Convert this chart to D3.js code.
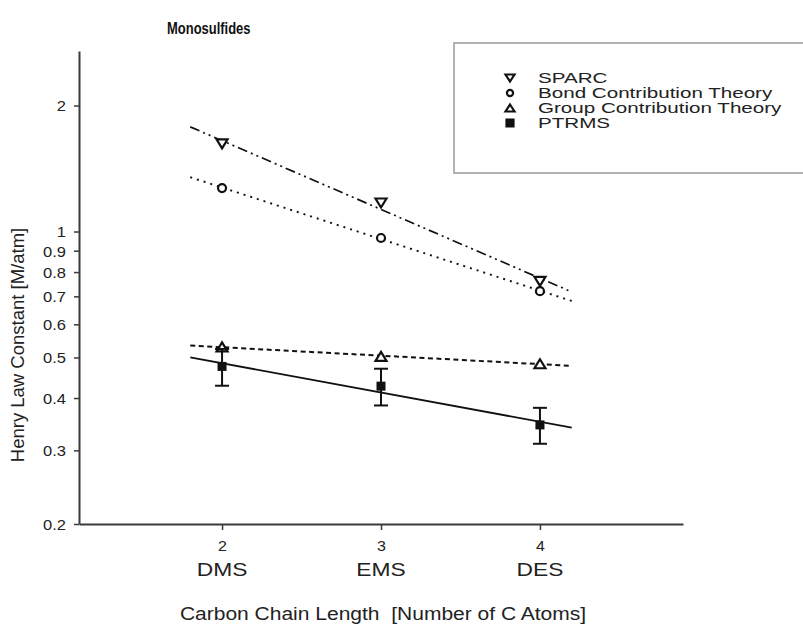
<!DOCTYPE html>
<html>
<head>
<meta charset="utf-8">
<script src="https://cdn.jsdelivr.net/npm/d3@7"></script>
<style>
  body { margin: 0; background: #fff; }
  svg { font-family: "Liberation Sans", Arial, sans-serif; }
</style>
</head>
<body>
<div id="chart"></div>
<script>
// carbon chain length of each monosulfide
var carbons = [2, 3, 4];
var compounds = ["DMS", "EMS", "DES"];
var yTicks = [0.2, 0.3, 0.4, 0.5, 0.6, 0.7, 0.8, 0.9, 1, 2];

// Henry law constants [M/atm]
var sparc = [1.62, 1.17, 0.76];
var bondTheory = [1.27, 0.965, 0.72];
var groupTheory = [0.53, 0.503, 0.483];
var ptrms = [0.476, 0.427, 0.345];
var ptrmsErr = [0.048, 0.043, 0.034];

var seriesNames = ["SPARC", "Bond Contribution Theory", "Group Contribution Theory", "PTRMS"];
var fitRange = [1.8, 4.2];

var width = 803;
let height = 624;

var svg = d3.select("#chart")
  .append("svg")
  .attr("width", width)
  .attr("height", height);

let x = d3.scaleLinear().domain([1.1, 4.9]).range([79, 683]);
let y = d3.scaleLog().domain([0.2, 2.7]).range([524, 51]);

// the picture's lettering is wider than plain Arial, so stretch it sideways
function widen(sel, k) {
  sel.each(function() {
    let w = this.getComputedTextLength();
    d3.select(this).attr("textLength", w * k).attr("lengthAdjust", "spacingAndGlyphs");
  });
}

function triangle(w, h, down) {
  let s = down ? -1 : 1;
  return "M0," + (-s * h / 2) + "L" + (w / 2) + "," + (s * h / 2) + "L" + (-w / 2) + "," + (s * h / 2) + "Z";
}

// least squares of log10(value) against carbon count
function logFit(vals) {
  let lx = carbons, ly = vals.map(v => Math.log10(v));
  let mx = d3.mean(lx), my = d3.mean(ly);
  let num = d3.sum(lx, (d, i) => (d - mx) * (ly[i] - my));
  let den = d3.sum(lx, d => (d - mx) * (d - mx));
  let b = num / den;
  return fitRange.map(c => [c, Math.pow(10, my + b * (c - mx))]);
}

// axes
let xAxis = svg.append("g")
  .attr("transform", "translate(0,524)")
  .call(d3.axisBottom(x).tickValues(carbons).tickSize(6).tickSizeOuter(0).tickPadding(11).tickFormat(d3.format("d")));

let yAxis = svg.append("g")
  .attr("transform", "translate(79,0)")
  .call(d3.axisLeft(y).tickValues(yTicks).tickSize(5).tickSizeOuter(0).tickPadding(8).tickFormat(d => String(d)));

svg.selectAll(".domain").attr("stroke", "#3a3a3a").attr("stroke-width", 2);
svg.selectAll(".tick line").attr("stroke", "#3a3a3a").attr("stroke-width", 1.5);

yAxis.selectAll("text")
  .attr("font-size", 15)
  .attr("fill", "#222")
  .attr("dy", "0.36em")
  .call(widen, 1.1);

xAxis.selectAll("text")
  .attr("font-size", 14.5)
  .attr("fill", "#222")
  .call(widen, 1.1);

svg.append("g").selectAll("text")
  .data(carbons)
  .enter()
  .append("text")
  .attr("x", d => x(d))
  .attr("y", 576)
  .attr("text-anchor", "middle")
  .attr("font-size", 19)
  .attr("fill", "#222")
  .text((d, i) => compounds[i])
  .call(widen, 1.2);

// titles
svg.append("text")
  .attr("x", 167)
  .attr("y", 34)
  .attr("font-size", 16)
  .attr("font-weight", "bold")
  .attr("fill", "#111")
  .text("Monosulfides")
  .call(widen, 0.81);

svg.append("text")
  .attr("x", 383)
  .attr("y", 620)
  .attr("text-anchor", "middle")
  .attr("font-size", 17.5)
  .attr("fill", "#222")
  .style("white-space", "pre")
  .text("Carbon Chain Length  [Number of C Atoms]")
  .call(widen, 1.2);

svg.append("text")
  .attr("transform", "translate(24,345) rotate(-90)")
  .attr("text-anchor", "middle")
  .attr("font-size", 18.5)
  .attr("fill", "#222")
  .text("Henry Law Constant [M/atm]");

// fitted trend lines
let line = d3.line().x(d => x(d[0])).y(d => y(d[1]));

let fits = [
  {vals: sparc, dash: "10,4,2,4,2,4", w: 1.7},
  {vals: bondTheory, dash: "2,5", w: 1.9},
  {vals: groupTheory, dash: "5,3.5", w: 2},
  {vals: ptrms, dash: null, w: 1.8}
];

svg.append("g").selectAll("path")
  .data(fits)
  .enter()
  .append("path")
  .attr("d", d => line(logFit(d.vals)))
  .attr("fill", "none")
  .attr("stroke", "#111")
  .attr("stroke-width", d => d.w)
  .attr("stroke-dasharray", d => d.dash);

// open markers
function openMarkers(vals, shape) {
  svg.append("g").selectAll("path")
    .data(vals)
    .enter()
    .append("path")
    .attr("transform", (d, i) => "translate(" + x(carbons[i]) + "," + y(d) + ")")
    .attr("d", shape)
    .attr("fill", "#fff")
    .attr("stroke", "#111")
    .attr("stroke-width", 2.2);
}

let circlePath = d3.symbol().type(d3.symbolCircle).size(50)();
openMarkers(bondTheory, circlePath);
openMarkers(sparc, triangle(11, 9, true));
openMarkers(groupTheory, triangle(11, 9, false));

// PTRMS with error bars
let err = svg.append("g").selectAll("g")
  .data(ptrms)
  .enter()
  .append("g")
  .attr("stroke", "#111")
  .attr("stroke-width", 2);

err.append("line")
  .attr("x1", (d, i) => x(carbons[i]))
  .attr("x2", (d, i) => x(carbons[i]))
  .attr("y1", (d, i) => y(d - ptrmsErr[i]))
  .attr("y2", (d, i) => y(d + ptrmsErr[i]));

err.append("line")
  .attr("x1", (d, i) => x(carbons[i]) - 7)
  .attr("x2", (d, i) => x(carbons[i]) + 7)
  .attr("y1", (d, i) => y(d - ptrmsErr[i]))
  .attr("y2", (d, i) => y(d - ptrmsErr[i]));

err.append("line")
  .attr("x1", (d, i) => x(carbons[i]) - 7)
  .attr("x2", (d, i) => x(carbons[i]) + 7)
  .attr("y1", (d, i) => y(d + ptrmsErr[i]))
  .attr("y2", (d, i) => y(d + ptrmsErr[i]));

svg.append("g").selectAll("rect")
  .data(ptrms)
  .enter()
  .append("rect")
  .attr("x", (d, i) => x(carbons[i]) - 4.5)
  .attr("y", d => y(d) - 4.5)
  .attr("width", 9)
  .attr("height", 9)
  .attr("fill", "#111");

// legend
let legend = svg.append("g").attr("transform", "translate(454,43)");

legend.append("rect")
  .attr("width", 360)
  .attr("height", 130)
  .attr("fill", "#fff")
  .attr("stroke", "#9a9a9a")
  .attr("stroke-width", 1.5);

let legendShapes = [
  triangle(9, 7, true),
  d3.symbol().type(d3.symbolCircle).size(30)(),
  triangle(9, 7, false),
  "M-3.5,-3.5h7v7h-7Z"
];

let items = legend.selectAll(".item")
  .data(seriesNames)
  .enter()
  .append("g")
  .attr("class", "item")
  .attr("transform", (d, i) => "translate(0," + (35 + i * 15) + ")");

items.append("path")
  .attr("transform", "translate(56,0)")
  .attr("d", (d, i) => legendShapes[i])
  .attr("fill", (d, i) => i === 3 ? "#111" : "#fff")
  .attr("stroke", "#111")
  .attr("stroke-width", 2.2);

items.append("text")
  .attr("x", 84)
  .attr("y", 5)
  .attr("font-size", 14.5)
  .attr("fill", "#222")
  .text(d => d)
  .call(widen, 1.42);
</script>
</body>
</html>
